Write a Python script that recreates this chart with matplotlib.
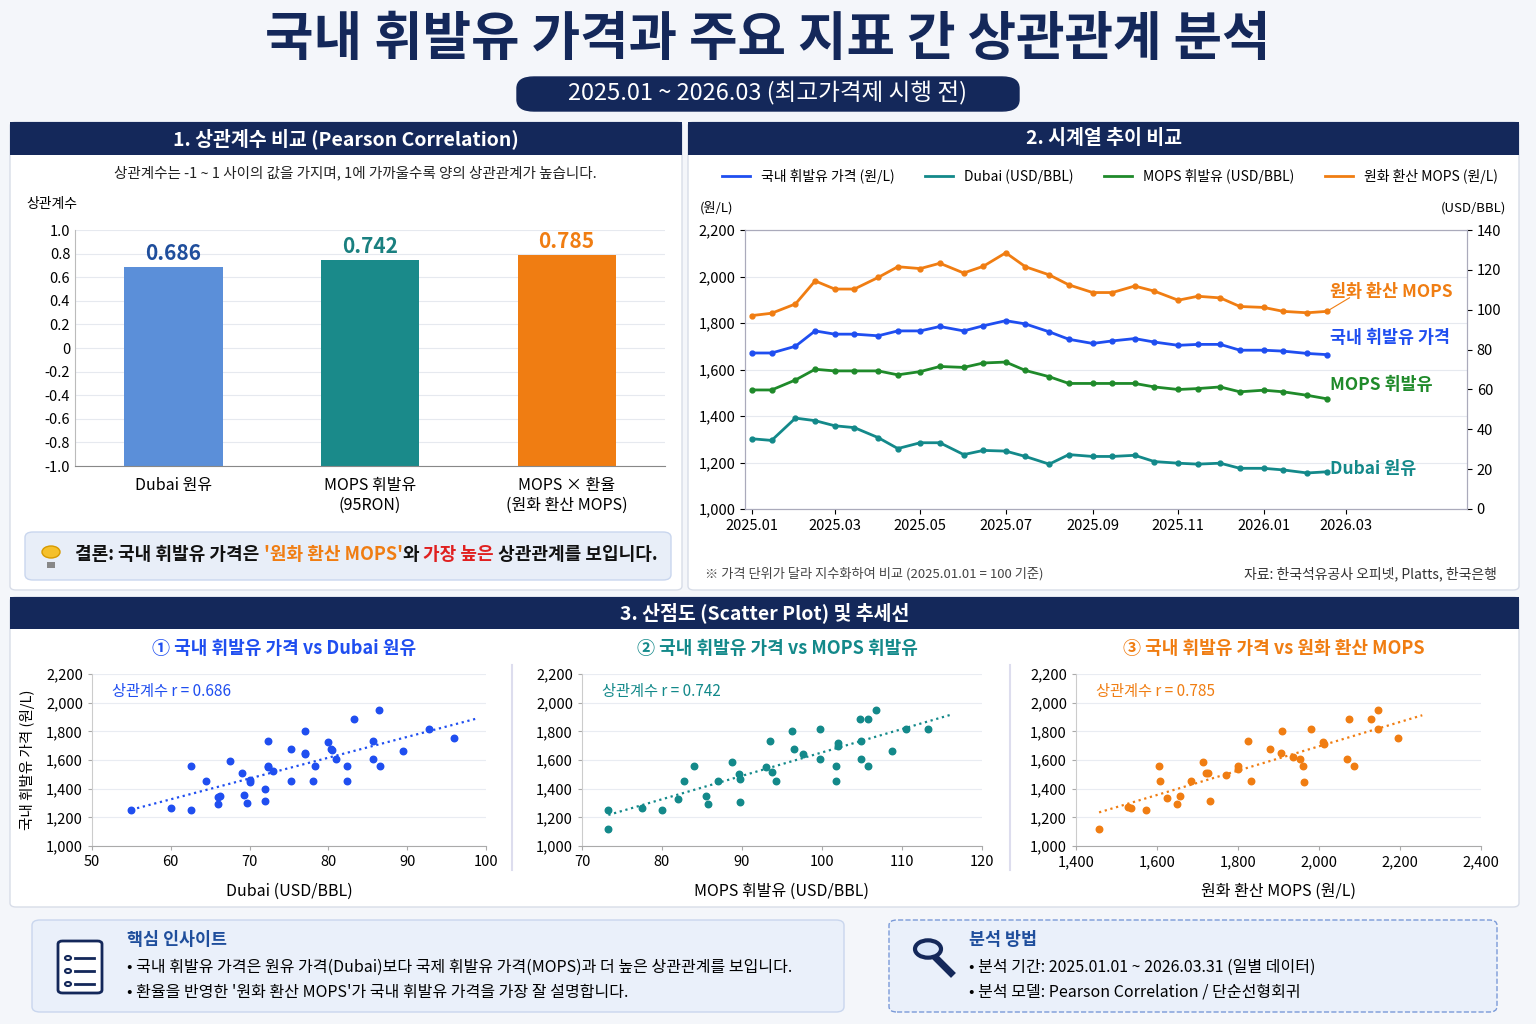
import numpy as np
import pandas as pd
import matplotlib
matplotlib.use("Agg")
import matplotlib.pyplot as plt
from matplotlib.patches import FancyBboxPatch, Rectangle, Circle

plt.rcParams['font.family'] = ['Noto Sans CJK KR', 'DejaVu Sans']

# ---- data ----
corr_labels = ['Dubai 원유', 'MOPS 휘발유\n(95RON)', 'MOPS × 환율\n(원화 환산 MOPS)']
corr_values = [0.686, 0.742, 0.785]

dates = pd.date_range('2025-01-01', periods=28, freq='SMS')
krw_mops = [1832, 1842, 1882, 1981, 1946, 1946, 1996, 2042, 2034, 2057, 2015, 2044, 2102, 2042,
            2007, 1964, 1931, 1931, 1959, 1937, 1898, 1915, 1908, 1871, 1867, 1850, 1844, 1850]
domestic = [1671, 1671, 1700, 1766, 1752, 1752, 1745, 1766, 1766, 1785, 1766, 1788, 1810, 1796,
            1762, 1730, 1712, 1723, 1733, 1718, 1704, 1708, 1708, 1683, 1683, 1679, 1669, 1664]
mops = [1512, 1512, 1555, 1601, 1594, 1594, 1594, 1577, 1591, 1613, 1609, 1628, 1632, 1596,
        1569, 1540, 1540, 1540, 1540, 1525, 1514, 1518, 1525, 1504, 1511, 1504, 1489, 1474]
dubai = [1302, 1295, 1391, 1380, 1358, 1350, 1307, 1260, 1285, 1285, 1234, 1252, 1249, 1226,
         1193, 1234, 1226, 1226, 1231, 1204, 1197, 1193, 1197, 1175, 1175, 1168, 1155, 1160]

sc_dubai = [(55, 1250), (60, 1265), (62.5, 1250), (62.5, 1555), (64.5, 1455), (66, 1290), (66, 1340),
            (66.2, 1350), (67.5, 1590), (69, 1510), (69.3, 1355), (69.7, 1300), (70, 1460), (70, 1450),
            (72, 1315), (72, 1400), (72.3, 1560), (72.3, 1550), (72.3, 1730), (73, 1520), (75.2, 1675),
            (75.2, 1455), (77, 1805), (77, 1640), (77, 1650), (78, 1455), (78.3, 1560), (80, 1725),
            (80.3, 1680), (80.5, 1670), (81, 1610), (82.3, 1555), (82.3, 1455), (83.3, 1885),
            (85.6, 1730), (85.6, 1605), (86.4, 1950), (86.5, 1555), (89.5, 1660), (92.8, 1815), (96, 1755)]
sc_mops = [(73.3, 1250), (73.3, 1120), (77.5, 1265), (80, 1250), (82, 1330), (82.7, 1455), (84, 1555),
           (85.5, 1350), (85.8, 1295), (87, 1455), (88.8, 1585), (89.6, 1505), (89.8, 1310), (89.8, 1470),
           (93, 1550), (93.5, 1730), (93.8, 1515), (94.3, 1455), (96.2, 1805), (96.5, 1675), (97.6, 1645),
           (99.7, 1815), (99.8, 1610), (101.8, 1560), (101.8, 1455), (102, 1720), (102, 1700),
           (104.8, 1885), (104.9, 1735), (104.9, 1605), (105.7, 1885), (105.7, 1555), (106.7, 1950),
           (108.8, 1660), (110.5, 1815), (113.2, 1815)]
sc_krw = [(1457, 1120), (1528, 1270), (1535, 1265), (1573, 1250), (1605, 1555), (1607, 1455), (1625, 1335),
          (1650, 1295), (1658, 1350), (1685, 1455), (1713, 1585), (1720, 1510), (1725, 1510), (1730, 1315),
          (1770, 1495), (1800, 1555), (1800, 1535), (1825, 1730), (1833, 1455), (1880, 1675), (1905, 1650),
          (1908, 1800), (1935, 1620), (1952, 1605), (1960, 1560), (1963, 1450), (1980, 1815), (2010, 1725),
          (2012, 1715), (2068, 1605), (2075, 1885), (2087, 1555), (2128, 1885), (2145, 1950), (2145, 1815),
          (2195, 1755)]

NAVY = '#14285a'
BLUE = '#1f4ef0'
TEAL = '#13898a'
GREEN = '#1f8a2a'
ORANGE = '#f07d12'

W, H = 1536, 1024
fig = plt.figure(figsize=(15.36, 10.24), dpi=100)
fig.patch.set_facecolor('#f4f6fa')


def fx(x):
    return x / W


def fy(y):
    return 1 - y / H


def add_ax(l, t, r, b):
    ax = fig.add_axes([fx(l), fy(b), fx(r - l), (b - t) / H])
    ax.set_facecolor('none')
    return ax


def box(l, t, r, b, fc='white', ec='#d8dde8', pad=6, lw=1, ls='-'):
    p = FancyBboxPatch((fx(l), fy(b)), fx(r - l), (b - t) / H,
                       boxstyle=f'round,pad=0,rounding_size={pad / W}',
                       transform=fig.transFigure, fc=fc, ec=ec, lw=lw, ls=ls, zorder=-5)
    fig.patches.append(p)


def header(l, t, r, b, text):
    fig.patches.append(Rectangle((fx(l), fy(b)), fx(r - l), (b - t) / H,
                                 transform=fig.transFigure, fc=NAVY, ec='none', zorder=-4))
    fig.text(fx((l + r) / 2), fy((t + b) / 2), text, color='white', fontsize=14,
             fontweight='bold', ha='center', va='center')


def rich(x, y, parts, fontsize):
    r = fig.canvas.get_renderer()
    cx = fx(x)
    for s, c, wgt in parts:
        t = fig.text(cx, fy(y), s, color=c, fontsize=fontsize, fontweight=wgt, va='center')
        bb = t.get_window_extent(r)
        cx += bb.width / W


# title
fig.text(0.5, fy(40), '국내 휘발유 가격과 주요 지표 간 상관관계 분석', fontsize=38,
         fontweight='black', color=NAVY, ha='center', va='center')
box(517, 77, 1019, 111, fc=NAVY, ec=NAVY, pad=17)
fig.text(fx(768), fy(93), '2025.01 ~ 2026.03 (최고가격제 시행 전)', fontsize=17,
         color='white', ha='center', va='center', fontweight='medium')

# panels
box(10, 122, 682, 590)
header(10, 122, 682, 155, '1. 상관계수 비교 (Pearson Correlation)')
box(688, 122, 1519, 590)
header(688, 122, 1519, 155, '2. 시계열 추이 비교')
box(10, 597, 1519, 907)
header(10, 597, 1519, 629, '3. 산점도 (Scatter Plot) 및 추세선')

# ---- panel 1: bars ----
fig.text(fx(355), fy(173), '상관계수는 -1 ~ 1 사이의 값을 가지며, 1에 가까울수록 양의 상관관계가 높습니다.',
         fontsize=10.5, ha='center', va='center', color='#222')
fig.text(fx(52), fy(204), '상관계수', fontsize=10, ha='center', va='center')
ax1 = add_ax(75, 230, 665, 466)
bar_colors = ['#5b8fd9', '#1a8a8a', ORANGE]
lab_colors = ['#1f4e9c', '#1a8080', ORANGE]
xs = np.arange(3)
ax1.bar(xs, [v + 1 for v in corr_values], bottom=-1, width=0.5, color=bar_colors)
for i, v in enumerate(corr_values):
    ax1.text(i, v + 0.03, f'{v:.3f}', ha='center', va='bottom', fontsize=15,
             fontweight='bold', color=lab_colors[i])
ax1.set_ylim(-1, 1)
ax1.set_xlim(-0.5, 2.5)
yt = np.arange(-1, 1.01, 0.2)
ax1.set_yticks(yt)
ax1.set_yticklabels([('0' if abs(t) < 1e-9 else f'{t:.1f}') for t in yt])
ax1.set_xticks(xs)
ax1.set_xticklabels(corr_labels, fontsize=11.5)
ax1.tick_params(axis='y', labelsize=10.5, length=0)
ax1.tick_params(axis='x', length=0, pad=8)
ax1.grid(axis='y', color='#e6e9ef')
ax1.set_axisbelow(True)
for s in ['top', 'right']:
    ax1.spines[s].set_visible(False)
ax1.spines['left'].set_color('#bbb')
ax1.spines['bottom'].set_color('#888')

box(25, 532, 671, 580, fc='#e8eef8', ec='#c9d6ee', pad=8)
fig.patches.append(Circle((fx(51), fy(552)), 9 / W, transform=fig.transFigure, fc='#f5c02b', ec='#d79a00'))
fig.patches.append(Rectangle((fx(47), fy(568)), 8 / W, 6 / H, transform=fig.transFigure, fc='#888', ec='none'))
rich(75, 555, [('결론: ', '#111', 'bold'), ('국내 휘발유 가격은 ', '#111', 'bold'),
               ("'원화 환산 MOPS'", ORANGE, 'bold'), ('와 ', '#111', 'bold'),
               ('가장 높은', '#e02020', 'bold'), (' 상관관계를 보입니다.', '#111', 'bold')], 13)

# ---- panel 2: time series ----
ax2 = add_ax(745, 230, 1467, 509)
series = [(domestic, BLUE, '국내 휘발유 가격 (원/L)'), (dubai, TEAL, 'Dubai (USD/BBL)'),
          (mops, GREEN, 'MOPS 휘발유 (USD/BBL)'), (krw_mops, ORANGE, '원화 환산 MOPS (원/L)')]
lines = []
for vals, c, lab in series:
    ln, = ax2.plot(dates, vals, color=c, lw=2, marker='o', ms=3.5, label=lab)
    lines.append(ln)
ax2.set_ylim(1000, 2200)
ax2.set_yticks(range(1000, 2201, 200))
ax2.yaxis.set_major_formatter(matplotlib.ticker.StrMethodFormatter('{x:,.0f}'))
ax2.set_xlim(pd.Timestamp('2024-12-27'), pd.Timestamp('2026-05-26'))
ticks = pd.date_range('2025-01-01', '2026-03-01', freq='2MS')
ax2.set_xticks(ticks)
ax2.set_xticklabels([d.strftime('%Y.%m') for d in ticks])
ax2.tick_params(labelsize=10.5)
ax2.grid(axis='y', color='#e6e9ef')
for s in ax2.spines.values():
    s.set_color('#aab')
ax2r = ax2.twinx()
ax2r.set_ylim(0, 140)
ax2r.set_yticks(range(0, 141, 20))
ax2r.tick_params(labelsize=10.5)
for s in ax2r.spines.values():
    s.set_color('#aab')
leg_lines = [plt.Line2D([], [], color=c, lw=2) for _, c, _ in series]
fig.legend(handles=leg_lines, labels=[s[2] for s in series], loc='center',
           bbox_to_anchor=(fx(1110), fy(176)), ncol=4,
           frameon=False, fontsize=10, handlelength=2, columnspacing=2.2)
fig.text(fx(700), fy(208), '(원/L)', fontsize=9.5, va='center')
fig.text(fx(1506), fy(208), '(USD/BBL)', fontsize=9.5, va='center', ha='right')
end_labels = [(ORANGE, '원화 환산 MOPS', 1935), (BLUE, '국내 휘발유 가격', 1735),
              (GREEN, 'MOPS 휘발유', 1535), (TEAL, 'Dubai 원유', 1172)]
for c, lab, ypos in end_labels:
    ax2.text(pd.Timestamp('2026-03-01') - pd.Timedelta(days=12), ypos, lab, color=c,
             fontsize=12.5, fontweight='bold', va='center')
ax2.annotate('', xy=(dates[-1], krw_mops[-1]), xytext=(pd.Timestamp('2026-03-05'), 1915),
             arrowprops=dict(arrowstyle='-', color=ORANGE, lw=0.8))
fig.text(fx(705), fy(574), '※ 가격 단위가 달라 지수화하여 비교 (2025.01.01 = 100 기준)',
         fontsize=9.5, color='#444', va='center')
fig.text(fx(1497), fy(574), '자료: 한국석유공사 오피넷, Platts, 한국은행', fontsize=10,
         color='#333', va='center', ha='right')

# ---- panel 3: scatter ----
scatters = [
    (sc_dubai, BLUE, '① 국내 휘발유 가격 vs Dubai 원유', 'Dubai (USD/BBL)', (92, 486), (50, 100), 10, 0.686, '#1f4ef0'),
    (sc_mops, TEAL, '② 국내 휘발유 가격 vs MOPS 휘발유', 'MOPS 휘발유 (USD/BBL)', (582, 982), (70, 120), 10, 0.742, TEAL),
    (sc_krw, ORANGE, '③ 국내 휘발유 가격 vs 원화 환산 MOPS', '원화 환산 MOPS (원/L)', (1076, 1481), (1400, 2400), 200, 0.785, ORANGE),
]
for i, (pts, c, ttl, xl, (l, r), (x0, x1), step, rv, tc) in enumerate(scatters):
    ax = add_ax(l, 674, r, 846)
    px = np.array([p[0] for p in pts])
    py = np.array([p[1] for p in pts])
    ax.scatter(px, py, s=22, color=c, zorder=3)
    k, b0 = np.polyfit(px, py, 1)
    xx = np.array([px.min(), px.max() + (x1 - x0) * 0.06])
    ax.plot(xx, k * xx + b0, ls=':', color=c, lw=1.6)
    ax.set_xlim(x0, x1)
    ax.set_ylim(1000, 2200)
    ax.set_xticks(np.arange(x0, x1 + 1, step))
    ax.set_yticks(range(1000, 2201, 200))
    ax.xaxis.set_major_formatter(matplotlib.ticker.StrMethodFormatter('{x:,.0f}'))
    ax.yaxis.set_major_formatter(matplotlib.ticker.StrMethodFormatter('{x:,.0f}'))
    ax.tick_params(labelsize=10.5, length=3, color='#aaa')
    ax.grid(axis='y', color='#e9ecf2')
    ax.set_axisbelow(True)
    for s in ['top', 'right']:
        ax.spines[s].set_visible(False)
    ax.spines['left'].set_color('#ccc')
    ax.spines['bottom'].set_color('#aaa')
    ax.set_xlabel(xl, fontsize=11.5, labelpad=10)
    ax.text(0.05, 0.95, f'상관계수 r = {rv:.3f}', transform=ax.transAxes, color=tc,
            fontsize=11, va='top')
    fig.text(fx((l + r) / 2 - 5), fy(648), ttl, color=tc, fontsize=13, fontweight='bold',
             ha='center', va='center')
    if i == 0:
        ax.set_ylabel('국내 휘발유 가격 (원/L)', fontsize=10.5, labelpad=8)
fig.add_artist(plt.Line2D([fx(512), fx(512)], [fy(665), fy(870)], color='#dde', transform=fig.transFigure))
fig.add_artist(plt.Line2D([fx(1010), fx(1010)], [fy(665), fy(870)], color='#dde', transform=fig.transFigure))

# ---- bottom boxes ----
box(32, 920, 844, 1012, fc='#eaf0fa', ec='#c9d6ee', pad=8)
fig.patches.append(FancyBboxPatch((fx(58), fy(993)), fx(44), 52 / H, boxstyle='round,pad=0,rounding_size=0.003',
                                  transform=fig.transFigure, fc='white', ec=NAVY, lw=2))
for yy in [958, 971, 984]:
    fig.patches.append(Circle((fx(68), fy(yy)), 3 / W, transform=fig.transFigure, fc='white', ec=NAVY, lw=1.5))
    fig.add_artist(plt.Line2D([fx(75), fx(94)], [fy(yy), fy(yy)], color=NAVY, lw=2, transform=fig.transFigure))
fig.text(fx(127), fy(940), '핵심 인사이트', fontsize=12.5, fontweight='bold', color='#1f4e9c', va='center')
fig.text(fx(127), fy(967), '• 국내 휘발유 가격은 원유 가격(Dubai)보다 국제 휘발유 가격(MOPS)과 더 높은 상관관계를 보입니다.',
         fontsize=11.5, va='center')
fig.text(fx(127), fy(992), "• 환율을 반영한 '원화 환산 MOPS'가 국내 휘발유 가격을 가장 잘 설명합니다.",
         fontsize=11.5, va='center')

box(889, 920, 1497, 1012, fc='#eaf0fa', ec='#7a9ad8', pad=8, ls='--')
fig.patches.append(Circle((fx(928), fy(949)), 13 / W, transform=fig.transFigure, fc='#dbe8fb', ec=NAVY, lw=3))
fig.add_artist(plt.Line2D([fx(937), fx(951)], [fy(959), fy(973)], color=NAVY, lw=5, transform=fig.transFigure))
fig.text(fx(969), fy(940), '분석 방법', fontsize=12.5, fontweight='bold', color='#1f4e9c', va='center')
fig.text(fx(969), fy(967), '• 분석 기간: 2025.01.01 ~ 2026.03.31 (일별 데이터)', fontsize=11.5, va='center')
fig.text(fx(969), fy(992), '• 분석 모델: Pearson Correlation / 단순선형회귀', fontsize=11.5, va='center')

fig.savefig('out.png', dpi=100, facecolor=fig.get_facecolor())
